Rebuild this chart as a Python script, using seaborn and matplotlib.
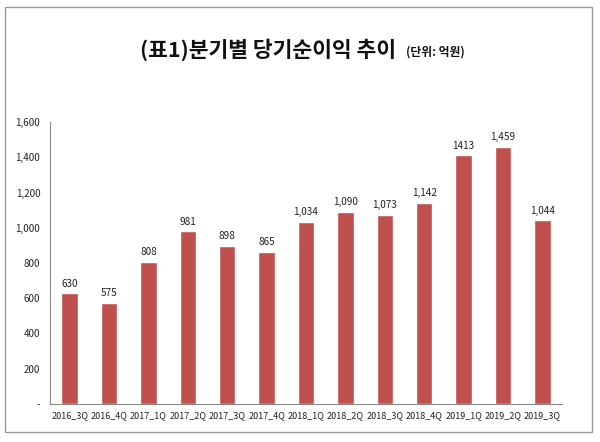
import matplotlib
matplotlib.use('Agg')
import matplotlib.pyplot as plt
import seaborn as sns
import pandas as pd
from matplotlib.patches import Rectangle

# Quarterly net income (unit: 100M KRW)
quarters = ['2016_3Q', '2016_4Q', '2017_1Q', '2017_2Q', '2017_3Q', '2017_4Q', '2018_1Q',
            '2018_2Q', '2018_3Q', '2018_4Q', '2019_1Q', '2019_2Q', '2019_3Q']
net_income = [630, 575, 808, 981, 898, 865, 1034, 1090, 1073, 1142, 1413, 1459, 1044]
value_labels = ['630', '575', '808', '981', '898', '865', '1,034', '1,090', '1,073',
                '1,142', '1413', '1,459', '1,044']
y_ticks = [0, 200, 400, 600, 800, 1000, 1200, 1400, 1600]
y_tick_labels = ['-', '200', '400', '600', '800', '1,000', '1,200', '1,400', '1,600']

df = pd.DataFrame({'quarter': quarters, 'income': net_income})

sns.set_style('white')
plt.rcParams['font.family'] = ['Noto Sans CJK KR', 'DejaVu Sans']

fig = plt.figure(figsize=(6, 4.42), dpi=100)
ax = fig.add_axes([0.0833, 0.086, 0.8534, 0.638])

sns.barplot(data=df, x='quarter', y='income', color='#C0504D', saturation=1,
            width=0.42, ax=ax)

ax.set_xlim(-0.5, len(quarters) - 0.5)
ax.set_ylim(0, 1600)
ax.set_yticks(y_ticks)
ax.set_yticklabels(y_tick_labels, fontsize=7, color='#222222')
ax.set_xticks(range(len(quarters)))
ax.set_xticklabels(quarters, fontsize=6.5, color='#222222')
ax.tick_params(axis='x', which='major', length=0, pad=5)
ax.set_xticks([i - 0.5 for i in range(len(quarters) + 1)], minor=True)
ax.tick_params(axis='x', which='minor', length=4, color='#888888', direction='out')
ax.tick_params(axis='y', length=4, color='#888888', direction='out', pad=3)
ax.set_xlabel('')
ax.set_ylabel('')

for s in ['top', 'right']:
    ax.spines[s].set_visible(False)
for s in ['left', 'bottom']:
    ax.spines[s].set_color('#888888')
    ax.spines[s].set_linewidth(0.8)

# value labels above bars
for i, (v, lab) in enumerate(zip(net_income, value_labels)):
    ax.text(i, v + 25, lab, ha='center', va='bottom', fontsize=7.2, color='#222222')

# title
fig.text(0.233, 0.887, '(표1)분기별 당기순이익 추이', ha='left', va='center',
         fontsize=15.5, fontweight='bold', color='#111111')
fig.text(0.677, 0.882, '(단위: 억원)', ha='left', va='center',
         fontsize=8.5, fontweight='bold', color='#111111')

# outer frame
fig.patches.append(Rectangle((5 / 600, 1 - 432 / 442), 587 / 600, 425 / 442,
                             transform=fig.transFigure, fill=False,
                             edgecolor='#999999', linewidth=1))

fig.savefig('out.png', dpi=100, facecolor='white')
